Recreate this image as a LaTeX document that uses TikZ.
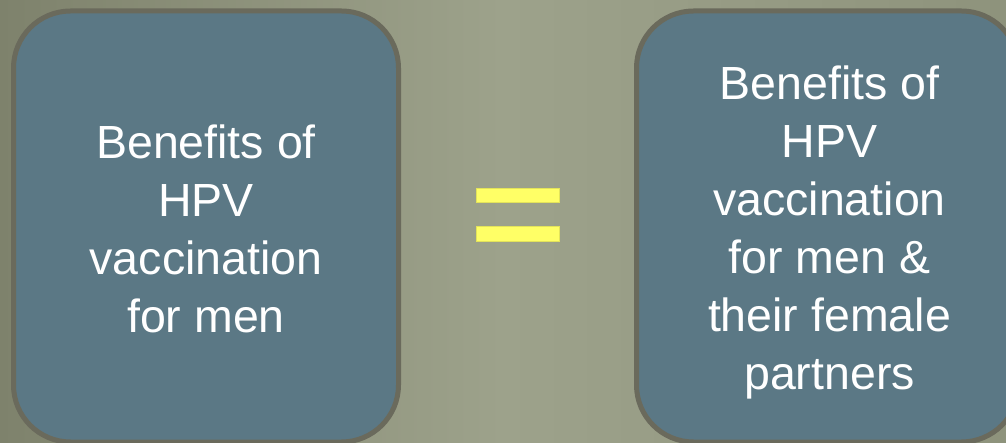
\documentclass[tikz,border=0pt]{standalone}
\usepackage{fontspec}
\setmainfont{Liberation Sans}
\usetikzlibrary{positioning}
\definecolor{bgdark}{HTML}{7E826C}
\definecolor{bglight}{HTML}{9DA28B}
\definecolor{bgright}{HTML}{8E937C}
\definecolor{boxfill}{HTML}{5B7885}
\definecolor{boxrim}{HTML}{6A6A5C}
\definecolor{eqyellow}{HTML}{FFFF66}
\definecolor{eqrim}{HTML}{E3E35A}
\begin{document}
\begin{tikzpicture}[x=1pt,y=1pt,
  benefit/.style={draw=boxrim,line width=5pt,fill=boxfill,rounded corners=57pt,
    minimum width=385pt,minimum height=431pt,inner sep=0pt},
  blurb/.style={text=white,align=center,inner sep=0pt,font=\fontsize{46.5}{58}\selectfont},
  bar/.style={draw=eqrim,line width=.8pt,fill=eqyellow,minimum width=83pt,
    minimum height=14.4pt,inner sep=0pt}]
 \useasboundingbox (0,0) rectangle (1006,442);
 \begin{scope}
  \clip (0,0) rectangle (1006,442);
  \shade[left color=bgdark,right color=bgright,middle color=bglight] (0,0) rectangle (1006,442);
  % the two boxes
  \node[benefit] (men) at (206,215.5) {};
  \node[benefit,minimum width=382pt] (both) at (827.5,215.5) {};
  \node[blurb] (mentext) at ([yshift=-2.75pt]men.center) {Benefits of\\HPV\\vaccination\\for men};
  \node[blurb] (bothtext) at ([xshift=2pt,yshift=-5.75pt]both.center) {Benefits of\\HPV\\vaccination\\for men \&\\their female\\partners};
  % equals sign
  \node[bar] (eqtop) at (518.2,246.5) {};
  \node[bar] (eqbot) at (518.2,208.2) {};
 \end{scope}
\end{tikzpicture}
\end{document}
